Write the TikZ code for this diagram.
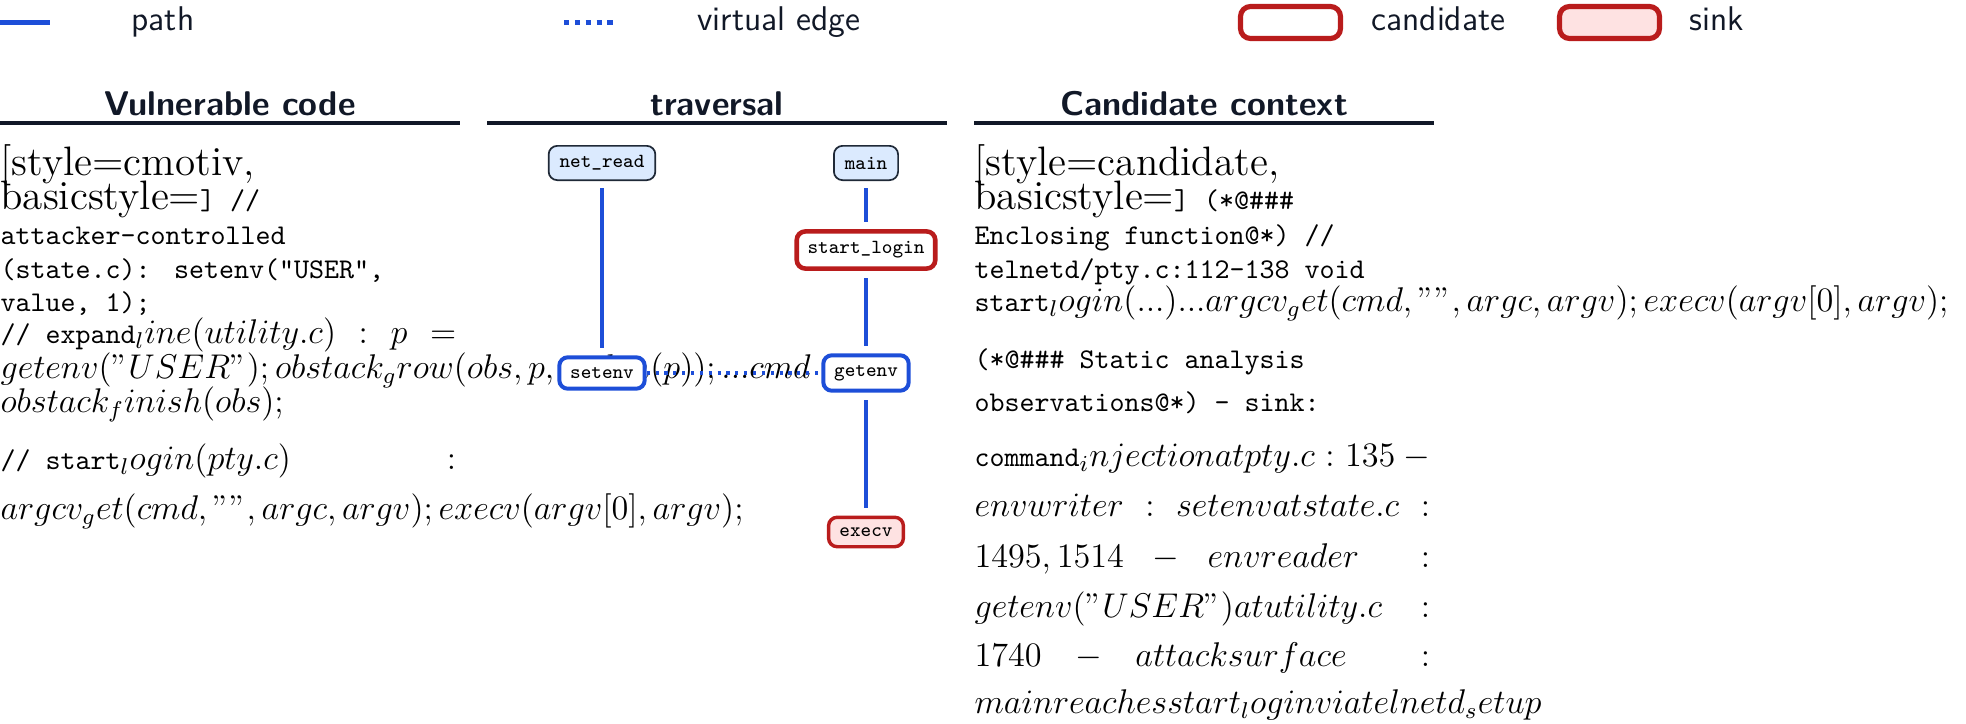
\documentclass[tikz,border=0pt]{standalone}
\usepackage{xcolor}
\definecolor{navy}{HTML}{111827}
\definecolor{pathblue}{HTML}{1D4ED8}
\definecolor{sinkred}{HTML}{B91C1C}
\definecolor{sinkfill}{HTML}{FEE2E2}
\definecolor{fnfill}{HTML}{DBEAFE}
\definecolor{fnline}{HTML}{1F2937}
\newlength{\codew}\setlength{\codew}{159.5pt}
\newcommand{\jline}[1]{\makebox[\codew][s]{#1}}
\newcommand{\codett}[1]{{\normalsize\ttfamily #1}}
\newcommand{\codebig}[1]{{\Large #1}}
\tikzset{
  colhead/.style={anchor=base,inner sep=0pt,font=\sffamily\bfseries\large,text=navy},
  colrule/.style={draw=navy,line width=1.4pt},
  legtxt/.style={anchor=base west,inner sep=0pt,font=\sffamily\large,text=navy},
  code/.style={anchor=base west,inner sep=0pt,font=\large},
  fnnode/.style={draw=fnline,fill=fnfill,line width=0.6pt,rounded corners=3pt,
    font=\ttfamily\scriptsize,inner xsep=3.8pt,inner ysep=0pt,minimum height=12pt},
  candnode/.style={fnnode,draw=sinkred,fill=white,line width=1.6pt},
  envnode/.style={fnnode,draw=pathblue,fill=white,line width=1.4pt},
  sinknode/.style={fnnode,draw=sinkred,fill=sinkfill,line width=1.2pt},
  legbox/.style={draw=sinkred,line width=1.8pt,rounded corners=3.5pt,
    minimum width=35pt,minimum height=11.2pt,inner sep=0pt},
  pathedge/.style={draw=pathblue,line width=1.1pt,shorten <=2.6pt,shorten >=2.6pt},
  vedge/.style={draw=pathblue,line width=1.1pt,dotted}
}
\begin{document}
\begin{tikzpicture}[x=0.35pt,y=-0.35pt]
\useasboundingbox (0,0) rectangle (1966,723);
% legend
\coordinate (pa) at (0,22.5);
\coordinate (pb) at (50,22.5);
\draw[draw=pathblue,line width=1.8pt] (pa) -- (pb);
\node[legtxt] (lpath) at (131,30) {path};
\coordinate (va) at (564,22.5);
\coordinate (vb) at (614,22.5);
\draw[draw=pathblue,line width=1.8pt,dotted] (va) -- (vb);
\node[legtxt] (lvirt) at (697,30) {virtual edge};
\node[legbox,fill=white] (kcand) at (1290.5,22.5) {};
\node[legtxt] (lcand) at (1371,30) {candidate};
\node[legbox,fill=sinkfill] (ksink) at (1609.5,22.5) {};
\node[legtxt] (lsink) at (1689,30) {sink};

% column heads
\node[colhead] (hvuln) at (230,115) {Vulnerable code};
\node[colhead] (htrav) at (717,115) {traversal};
\node[colhead] (hcand) at (1204,115) {Candidate context};
\draw[colrule] (0,123) -- (460,123);
\draw[colrule] (487,123) -- (947,123);
\draw[colrule] (974,123) -- (1434,123);

% vulnerable code
\node[code] (v1) at (0,175) {\codebig{[style=cmotiv,}};
\node[code] (v2) at (0,209) {\codebig{basicstyle=}\codett{] //}};
\node[code] (v3) at (0,244) {\codett{attacker-controlled}};
\node[code] (v4) at (0,278) {\codett{(state.c):\ \hspace{3pt}setenv("USER",}};
\node[code] (v5) at (0,311) {\codett{value, 1);}};
\node[code] (v6) at (0,343) {\jline{\codett{// expand}$_line(utility.c) : p =$}};
\node[code] (v7) at (0,378) {$getenv("USER");obstack_grow(obs,p,strlen(p));...cmd$};
\node[code] (v8) at (0,412) {$obstack_finish(obs);$};
\node[code] (v9) at (0,469) {\jline{\codett{// start}$_login(pty.c) :$}};
\node[code] (v10) at (0,519) {$argcv_get(cmd,"",argc,argv);execv(argv[0],argv);$};

% candidate context
\node[code] (c1) at (974,175) {\codebig{[style=candidate,}};
\node[code] (c2) at (974,209) {\codebig{basicstyle=}\codett{] (*@\#\#\#}};
\node[code] (c3) at (974,244) {\codett{Enclosing function@*) //}};
\node[code] (c4) at (974,278) {\codett{telnetd/pty.c:112-138 void}};
\node[code] (c5) at (974,311) {\codett{start}$_login(...)...argcv_get(cmd,"",argc,argv);execv(argv[0],argv);$};
\node[code] (c6) at (974,368) {\codett{(*@\#\#\# Static analysis}};
\node[code] (c7) at (974,411) {\codett{observations@*) - sink:}};
\node[code] (c8) at (974,466) {\jline{\codett{command}$_injectionatpty.c : 135\mskip\medmuskip{-}$}};
\node[code] (c9) at (974,516) {\jline{$envwriter : setenvatstate.c :$}};
\node[code] (c10) at (974,567) {\jline{$1495,1514-envreader :$}};
\node[code] (c11) at (974,617) {\jline{$getenv("USER")atutility.c :$}};
\node[code] (c12) at (974,666) {\jline{$1740-attacksurface :$}};
\node[code] (c13) at (974,713) {$mainreachesstart_loginviatelnetd_setup$};

% traversal
\node[fnnode] (netread) at (602,163) {net\_read};
\node[fnnode] (main) at (866,163) {main};
\node[candnode,minimum height=13pt] (startlogin) at (866,250) {start\_login};
\node[envnode,minimum height=11pt] (setenv) at (602,373) {setenv};
\node[envnode,minimum height=12.4pt] (getenv) at (866,373) {getenv};
\node[sinknode,minimum height=10.3pt] (execv) at (866,532) {execv};
\draw[pathedge] (netread) -- (setenv);
\draw[pathedge] (main) -- (startlogin);
\draw[pathedge] (startlogin) -- (getenv);
\draw[pathedge] (getenv) -- (execv);
\draw[vedge] (setenv) -- (getenv);
\end{tikzpicture}
\end{document}
